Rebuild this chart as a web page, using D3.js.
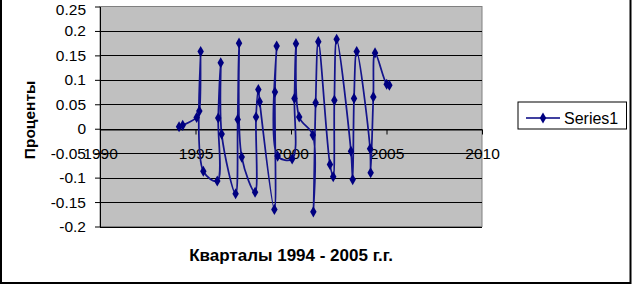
<!DOCTYPE html>
<html>
<head>
<meta charset="utf-8">
<script src="https://cdn.jsdelivr.net/npm/d3@7"></script>
<style>
  html, body { margin: 0; padding: 0; background: #fff; }
  svg { display: block; font-family: Arial, "Liberation Sans", sans-serif; }
</style>
</head>
<body>
<div class="graph"></div>
<script>
// quarter positions (year + fraction)
const quarters = [
  1994.14, 1994.33,
  1995.06, 1995.20, 1995.27, 1995.41,
  1996.14, 1996.19, 1996.32, 1996.37,
  1997.10, 1997.21, 1997.28, 1997.42,
  1998.12, 1998.17, 1998.29, 1998.36,
  1999.13, 1999.16, 1999.25, 1999.30,
  2000.06, 2000.18, 2000.26, 2000.43,
  2001.14, 2001.17, 2001.29, 2001.43,
  2002.04, 2002.21, 2002.27, 2002.39,
  2003.14, 2003.23, 2003.30, 2003.44,
  2004.14, 2004.17, 2004.31, 2004.40,
  2005.01, 2005.15
];
const series1 = [
  0.004, 0.007,
  0.023, 0.036, 0.158, -0.087,
  -0.107, 0.022, 0.135, -0.011,
  -0.133, 0.019, 0.175, -0.058,
  -0.130, 0.024, 0.080, 0.055,
  -0.165, 0.075, 0.169, -0.056,
  -0.062, 0.062, 0.174, 0.024,
  -0.013, -0.170, 0.053, 0.178,
  -0.073, -0.098, 0.058, 0.183,
  -0.046, -0.104, 0.062, 0.158,
  -0.041, -0.090, 0.065, 0.155,
  0.091, 0.089
];
const xTicks = [1990, 1995, 2000, 2005, 2010];
const xTickLabels = ["1990", "1995", "2000", "2005", "2010"];
const yTicks = [-0.2, -0.15, -0.1, -0.05, 0, 0.05, 0.1, 0.15, 0.2, 0.25];
const yTickLabels = ["-0.2", "-0.15", "-0.1", "-0.05", "0", "0.05", "0.1", "0.15", "0.2", "0.25"];
const seriesName = "Series1";
const xTitle = "Кварталы 1994 - 2005 г.г.";
const yTitle = "Проценты";

const width = 633, height = 287;
const plot = {left: 100, right: 482, top: 6.5, bottom: 226.5};
const navy = "#000080";

const svg = d3.select(".graph").append("svg")
    .attr("width", width)
    .attr("height", height);

//chart border
svg.append("rect")
    .attr("x", 1).attr("y", -4)
    .attr("width", 629.5).attr("height", 287)
    .attr("fill", "#fff")
    .attr("stroke", "#000")
    .attr("stroke-width", 2);

//Scales
const x = d3.scaleLinear()
    .domain([1990, 2010])
    .range([plot.left, plot.right]);

const y = d3.scaleLinear()
    .domain([-0.2, 0.25])
    .range([plot.bottom, plot.top]);

//Plot area
svg.append("rect")
    .attr("x", plot.left).attr("y", plot.top)
    .attr("width", plot.right - plot.left)
    .attr("height", plot.bottom - plot.top)
    .attr("fill", "#c0c0c0")
    .attr("stroke", "#808080")
    .attr("stroke-width", 1);

//Gridlines
svg.append("g").selectAll("line")
    .data(yTicks.filter(d => d < 0.25))
    .join("line")
    .attr("x1", plot.left).attr("x2", plot.right)
    .attr("y1", d => Math.round(y(d)) + 0.5)
    .attr("y2", d => Math.round(y(d)) + 0.5)
    .attr("stroke", "#000");

//Y axis
const yAxis = svg.append("g")
    .attr("transform", "translate(" + plot.left + ",0)")
    .call(d3.axisLeft(y)
        .tickValues(yTicks)
        .tickFormat((d, i) => yTickLabels[i])
        .tickSizeInner(5)
        .tickSizeOuter(0)
        .tickPadding(9));

//top label sits against the edge; keep it just inside
yAxis.selectAll(".tick text")
    .filter(d => d === 0.25)
    .attr("dy", "0.5em");

//X axis, crossing at zero
const xAxis = svg.append("g")
    .attr("transform", "translate(0," + (Math.round(y(0)) + 0.5) + ")")
    .call(d3.axisBottom(x)
        .tickValues(xTicks)
        .tickFormat((d, i) => xTickLabels[i])
        .tickSizeInner(5)
        .tickSizeOuter(0)
        .tickPadding(13));

[xAxis, yAxis].forEach(function(g){
    g.selectAll("text")
        .attr("fill", "#000")
        .style("font-size", "15.5px")
        .style("font-family", "Arial, 'Liberation Sans', sans-serif");
    g.selectAll("line, path").attr("stroke", "#000");
});

//Series line (smoothed)
const pts = quarters.map((q, i) => ({q: q, v: series1[i]}));

const line = d3.line()
    .x(d => x(d.q))
    .y(d => y(d.v))
    .curve(d3.curveCatmullRom.alpha(0.5));

svg.append("path")
    .datum(pts)
    .attr("fill", "none")
    .attr("stroke", "#14148c")
    .attr("stroke-width", 1.75)
    .attr("d", line);

//Markers
const diamond = d3.symbol().type(d3.symbolDiamond).size(36);
svg.append("g").selectAll("path")
    .data(pts)
    .join("path")
    .attr("transform", d => "translate(" + x(d.q) + "," + y(d.v) + ")")
    .attr("d", diamond)
    .attr("fill", navy);

//Axis titles
svg.append("text")
    .attr("x", 291)
    .attr("y", 261)
    .attr("text-anchor", "middle")
    .style("font-size", "17px")
    .style("font-weight", "bold")
    .text(xTitle);

svg.append("text")
    .attr("transform", "translate(35,120) rotate(-90)")
    .attr("text-anchor", "middle")
    .style("font-size", "15.5px")
    .style("font-weight", "bold")
    .text(yTitle);

//Legend
const legend = svg.append("g").attr("transform", "translate(518,102)");
legend.append("rect")
    .attr("width", 108.5).attr("height", 27)
    .attr("fill", "#fff")
    .attr("stroke", "#000");
legend.append("line")
    .attr("x1", 8).attr("x2", 42)
    .attr("y1", 16).attr("y2", 16)
    .attr("stroke", navy)
    .attr("stroke-width", 1.5);
legend.append("path")
    .attr("transform", "translate(25,16)")
    .attr("d", diamond)
    .attr("fill", navy);
legend.append("text")
    .attr("x", 46).attr("y", 21.5)
    .style("font-size", "16px")
    .text(seriesName);
</script>
</body>
</html>
